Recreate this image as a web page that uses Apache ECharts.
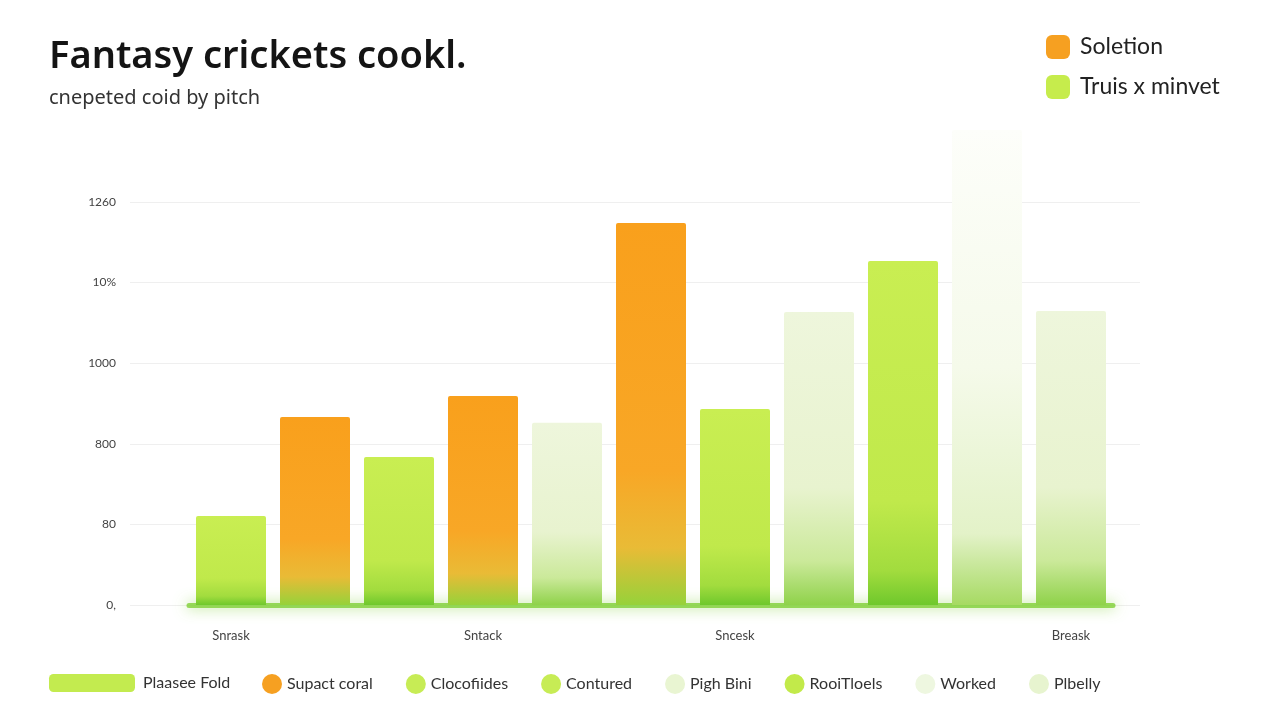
<!DOCTYPE html>
<html>
<head>
<meta charset="utf-8">
<script src="https://cdn.jsdelivr.net/npm/echarts@6/dist/echarts.min.js"></script>
<style>
  html, body { margin: 0; padding: 0; background: #fff; }
  #main { width: 1280px; height: 720px; }
</style>
</head>
<body>
<div id="main"></div>
<script>
// categories (only some labelled, as in the picture)
var categories = ['Snrask', '', '', 'Sntack', '', '', 'Sncesk', '', '', '', 'Breask'];
// orange bars
var soletion = [null, 583, null, 648, null, 1185, null, null, null, null, null];
// green bars (pale ones get a lighter style below)
var truis = [276, null, 459, null, 565, null, 608, 909, 1067, 1473, 912];
var paleIdx = [4, 7, 10];
var palestIdx = [9];
// y tick labels as printed
var yTickLabels = ['0,', '80', '800', '1000', '10%', '1260'];
// bottom legend
var bottomNames = ['Plaasee Fold', 'Supact coral', 'Clocofiides', 'Contured', 'Pigh Bini', 'RooiTloels', 'Worked', 'Plbelly'];
var bottomColors = ['#c3eb4f', '#f6a021', '#c7ec55', '#c7ec55', '#e9f5d2', '#c2ea4a', '#eef7e0', '#e7f4cf'];

var font = 'Lato';
var titleFont = 'Noto Sans';

function grad(stops) {
    return new echarts.graphic.LinearGradient(0, 0, 0, 1, stops.map(function (s) {
        return { offset: s[0], color: s[1] };
    }));
}
var orangeFill = grad([[0, '#f9a01c'], [0.65, '#f8a726'], [0.85, '#e9bb36'], [1, '#96d23a']]);
var greenFill = grad([[0, '#c9ee52'], [0.7, '#c0e94b'], [0.9, '#a2dc3e'], [1, '#6fc82c']]);
var paleFill = grad([[0, '#eef6dc'], [0.6, '#e8f3cf'], [0.85, '#cbe99a'], [1, '#8fd24a']]);
var palestFill = grad([[0, '#fdfefa'], [0.5, '#f5faea'], [0.85, '#e3f2c8'], [1, '#a6da62']]);

var truisData = truis.map(function (v, i) {
    if (v === null) return '-';
    var fill = greenFill;
    if (paleIdx.indexOf(i) >= 0) fill = paleFill;
    if (palestIdx.indexOf(i) >= 0) fill = palestFill;
    return { value: v, itemStyle: { color: fill } };
});
var soletionData = soletion.map(function (v) { return v === null ? '-' : v; });

var series = [
    {
        name: 'Soletion', type: 'bar', stack: 'all', xAxisIndex: 1, yAxisIndex: 1,
        barWidth: 70, clip: false, data: soletionData,
        itemStyle: { color: orangeFill, borderRadius: [2, 2, 0, 0] }
    },
    {
        name: 'Truis x minvet', type: 'bar', stack: 'all', xAxisIndex: 1, yAxisIndex: 1,
        barWidth: 70, clip: false, data: truisData,
        itemStyle: { color: greenFill, borderRadius: [2, 2, 0, 0] }
    }
];
// empty series so the bottom legend has entries
bottomNames.forEach(function (n, i) {
    series.push({ name: n, type: 'line', xAxisIndex: 0, yAxisIndex: 0, data: [], itemStyle: { color: bottomColors[i] } });
});

var chart = echarts.init(document.getElementById('main'));
chart.setOption({
    backgroundColor: '#ffffff',
    animation: false,
    title: {
        text: 'Fantasy crickets cookl.',
        subtext: 'cnepeted coid by pitch',
        left: 44, top: 33, itemGap: 12,
        textStyle: { fontFamily: titleFont, fontSize: 38, fontWeight: 600, color: '#141414' },
        subtextStyle: { fontFamily: titleFont, fontSize: 20, color: '#333' }
    },
    legend: [
        {
            data: [
                { name: 'Soletion', itemStyle: { color: '#f6a021' } },
                { name: 'Truis x minvet', itemStyle: { color: '#c6ec4c' } }
            ],
            orient: 'vertical', left: 1041, top: 30,
            icon: 'roundRect', itemWidth: 24, itemHeight: 24, itemGap: 16,
            textStyle: { fontFamily: font, fontSize: 23, color: '#222', padding: [0, 0, 0, 5] }
        },
        {
            data: [{ name: bottomNames[0], icon: 'roundRect' }],
            left: 44, top: 669, itemWidth: 86, itemHeight: 18,
            textStyle: { fontFamily: font, fontSize: 16, color: '#333', padding: [0, 0, 0, 3] }
        },
        {
            data: bottomNames.slice(1).map(function (n) { return { name: n, icon: 'circle' }; }),
            left: 257, top: 669, itemWidth: 20, itemHeight: 20, itemGap: 33,
            textStyle: { fontFamily: font, fontSize: 16, color: '#333' }
        }
    ],
    grid: [
        { left: 130, right: 140, top: 202, bottom: 115 },
        { left: 189, right: 167, top: 202, bottom: 115 }
    ],
    xAxis: [
        { type: 'value', gridIndex: 0, show: false, min: 0, max: 1 },
        {
            type: 'category', gridIndex: 1, data: categories,
            axisLine: { show: true, lineStyle: { color: '#7fcf36', width: 5, shadowBlur: 14, shadowColor: '#8fd64a', opacity: 0.8 } },
            axisTick: { show: false },
            axisLabel: { interval: 0, margin: 24, fontFamily: font, fontSize: 13, color: '#444' }
        }
    ],
    yAxis: [
        {
            type: 'value', gridIndex: 0, min: 0, max: 1250, interval: 250,
            axisLine: { show: false }, axisTick: { show: false },
            splitLine: { lineStyle: { color: '#efefef' } },
            axisLabel: {
                margin: 14, fontFamily: font, fontSize: 12, color: '#444',
                formatter: function (v) { return yTickLabels[Math.round(v / 250)]; }
            }
        },
        { type: 'value', gridIndex: 1, min: 0, max: 1250, interval: 250, show: false }
    ],
    series: series
});
</script>
</body>
</html>
